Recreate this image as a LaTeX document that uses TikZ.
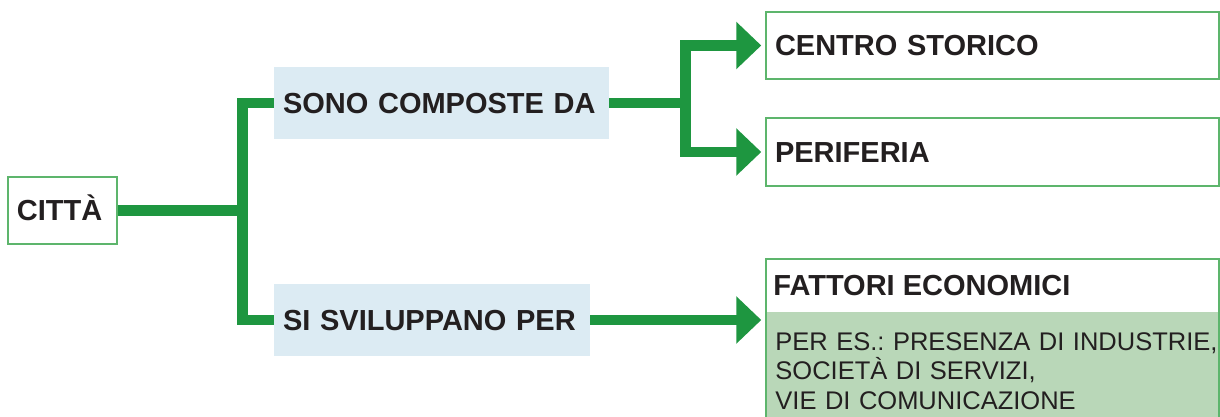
\documentclass[tikz,border=0pt]{standalone}
\usepackage{fontspec}
\setmainfont{Liberation Sans}
\usetikzlibrary{arrows.meta}
\definecolor{lineg}{HTML}{1E9640}
\definecolor{boxg}{HTML}{5DB56C}
\definecolor{lblue}{HTML}{DCEBF3}
\definecolor{lgreen}{HTML}{B9D7B8}
\definecolor{txt}{HTML}{231F20}
\frenchspacing
\begin{document}
\begin{tikzpicture}[x=0.5pt,y=-0.5pt,
  conn/.style={draw=lineg, line width=5.25pt, line join=miter},
  outbox/.style={draw=boxg, line width=0.75pt, fill=white},
  bluebox/.style={fill=lblue},
  lbl/.style={font=\bfseries\fontsize{14.5pt}{17pt}\selectfont, text=txt, align=left,
              text height=10.4pt, text depth=0pt, inner xsep=4.5pt, inner ysep=0pt},
  regtext/.style={font=\fontsize{12.75pt}{14.75pt}\selectfont, text=txt, align=left, inner sep=0pt},
]
\useasboundingbox (0,0) rectangle (1220,417);

% boxes
\node[lbl, outbox, minimum width=54.5pt, minimum height=33.5pt, text width=45.5pt] (citta) at (62.5,210.5) {CITTÀ};
\node[lbl, bluebox, minimum width=167.5pt, minimum height=36pt, text width=158.5pt] (sono) at (441.5,103) {SONO COMPOSTE DA};
\node[lbl, bluebox, minimum width=158pt, minimum height=36pt, text width=149pt] (svil) at (432,320) {SI SVILUPPANO PER};
\node[lbl, outbox, minimum width=226.5pt, minimum height=33.5pt, text width=217.5pt] (centro) at (992.5,45.5) {CENTRO STORICO};
\node[lbl, outbox, minimum width=226.5pt, minimum height=34pt, text width=217.5pt] (perif) at (992.5,152) {PERIFERIA};

\fill[lgreen] (766,312) rectangle (1219,420);
\node[draw=boxg, line width=0.75pt, minimum width=226.5pt, minimum height=80.5pt, inner sep=0pt] (fatt) at (992.5,339.5) {};
\node[lbl, anchor=base west, inner xsep=0pt] (fatttitle) at (773,295) {FATTORI ECONOMICI};
\node[regtext, anchor=base west, text width=225pt] (fattex) at (775,350)
  {PER ES.: PRESENZA DI INDUSTRIE,\\SOCIETÀ DI SERVIZI,\\VIE DI COMUNICAZIONE};

% connectors
\coordinate (jl) at (242.5,210.5);
\draw[conn] (citta.east) -- (jl);
\draw[conn] (sono.west) -| (jl) |- (svil.west);

\coordinate (jr) at (685.5,103);
\draw[conn] (sono.east) -- (jr);
\draw[conn, {Triangle[length=12.5pt,width=23pt]}-{Triangle[length=12.5pt,width=23pt]},
      shorten <=2pt, shorten >=2pt] (centro.west) -| (jr) |- (perif.west);

\draw[conn, -{Triangle[length=12.5pt,width=23pt]}, shorten >=2pt] (svil.east) -- (svil.east -| fatt.west);
\end{tikzpicture}
\end{document}
